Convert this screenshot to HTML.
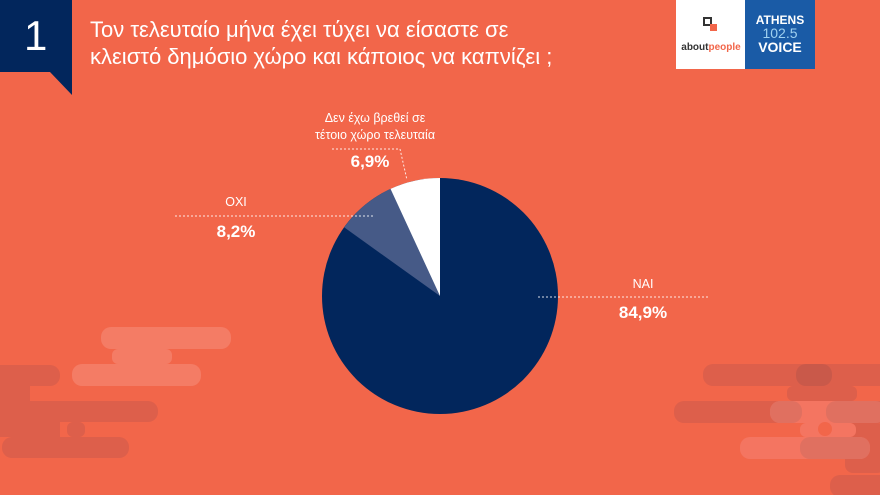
<!DOCTYPE html>
<html><head><meta charset="utf-8"><style>
html,body{margin:0;padding:0}
body{width:880px;height:495px;overflow:hidden;background:#f2664a;position:relative;font-family:"Liberation Sans","DejaVu Sans",sans-serif}
.t{position:absolute;color:#fff;white-space:nowrap}
</style></head><body>
<svg width="880" height="495" style="position:absolute;left:0;top:0">
  <!-- left blobs -->
  <g fill="#dd5f4b">
    <rect x="-20" y="365" width="80" height="21" rx="10"/>
    <rect x="-20" y="401" width="178" height="21" rx="10"/>
    <rect x="-20" y="386" width="50" height="15"/>
    <rect x="-20" y="422" width="80" height="15"/>
    <rect x="67" y="422" width="18" height="15" rx="6"/>
    <rect x="2" y="437" width="127" height="21" rx="10"/>
  </g>
  <g fill="#f47c65">
    <rect x="101" y="327" width="130" height="22" rx="10"/>
    <rect x="112" y="349" width="60" height="15" rx="6"/>
    <rect x="72" y="364" width="129" height="22" rx="10"/>
  </g>
  <!-- right blobs -->
  <g fill="#dd5f4b">
    <rect x="703" y="364" width="200" height="22" rx="10"/>
    <rect x="674" y="401" width="220" height="22" rx="10"/>
    <rect x="787" y="386" width="70" height="15" rx="6"/>
    <rect x="845" y="423" width="40" height="50" rx="8"/>
    <rect x="830" y="475" width="60" height="22" rx="10"/>
  </g>
  <rect x="796" y="364" width="36" height="22" rx="10" fill="#c9594a"/>
  <g fill="#f47561">
    <rect x="770" y="401" width="110" height="22" rx="10"/>
    <rect x="740" y="437" width="130" height="22" rx="10"/>
    <rect x="800" y="423" width="56" height="14" rx="6"/>
  </g>
  <g fill="#e07060">
    <rect x="770" y="401" width="32" height="22" rx="10"/>
    <rect x="826" y="401" width="60" height="22" rx="10"/>
    <rect x="800" y="437" width="70" height="22" rx="10"/>
  </g>
  <ellipse cx="825" cy="429" rx="7" ry="7" fill="#f2664a"/>
  <!-- badge -->
  <path d="M0,0 H72 V95 L50,72 H0 Z" fill="#02265c"/>
  <!-- logos -->
  <rect x="676" y="0" width="70" height="69" fill="#fff"/>
  <rect x="745" y="0" width="70" height="69" fill="#1a5ba6"/>
  <rect x="704" y="18" width="7" height="7" fill="none" stroke="#333" stroke-width="2"/>
  <rect x="710" y="24" width="7" height="7" fill="#f2664a"/>
  <!-- pie -->
  <circle cx="440" cy="296" r="118" fill="#02265c"/>
  <path d="M440,296 L344.1,227.3 A118,118 0 0 1 390.5,188.9 Z" fill="#465a87"/>
  <path d="M440,296 L390.5,188.9 A118,118 0 0 1 440,178 Z" fill="#fff"/>
  <!-- leader lines -->
  <g stroke="#fff" stroke-width="1" stroke-dasharray="2,2" fill="none" opacity="0.85">
    <polyline points="332,149 400,149 407,180"/>
    <line x1="175" y1="216" x2="375" y2="216"/>
    <line x1="538" y1="297" x2="708" y2="297"/>
  </g>
</svg>
<div class="t" style="left:24px;top:12px;font-size:42px;font-weight:300">1</div>
<div class="t" style="left:90px;top:16px;font-size:22px;line-height:27px;font-weight:300">Τον τελευταίο μήνα έχει τύχει να είσαστε σε<br>κλειστό δημόσιο χώρο και κάποιος να καπνίζει ;</div>
<div class="t" style="left:680px;top:42px;width:62px;text-align:center;font-size:10px;font-weight:bold;color:#333">about<span style="color:#f2664a">people</span></div>
<div class="t" style="left:745px;top:14px;width:70px;text-align:center;font-size:12px;font-weight:bold;line-height:13px">ATHENS<br><span style="color:#9fd0f0;font-size:14px;font-weight:normal">102.5</span><br><span style="font-size:14px">VOICE</span></div>
<div class="t" style="left:260px;top:110px;width:230px;text-align:center;font-size:12.5px;line-height:17px">Δεν έχω βρεθεί σε<br>τέτοιο χώρο τελευταία</div>
<div class="t" style="left:320px;top:152px;width:100px;text-align:center;font-size:17px;font-weight:bold">6,9%</div>
<div class="t" style="left:186px;top:195px;width:100px;text-align:center;font-size:12.5px">OXI</div>
<div class="t" style="left:186px;top:222px;width:100px;text-align:center;font-size:17px;font-weight:bold">8,2%</div>
<div class="t" style="left:593px;top:277px;width:100px;text-align:center;font-size:12.5px">NAI</div>
<div class="t" style="left:593px;top:303px;width:100px;text-align:center;font-size:17px;font-weight:bold">84,9%</div>
</body></html>
